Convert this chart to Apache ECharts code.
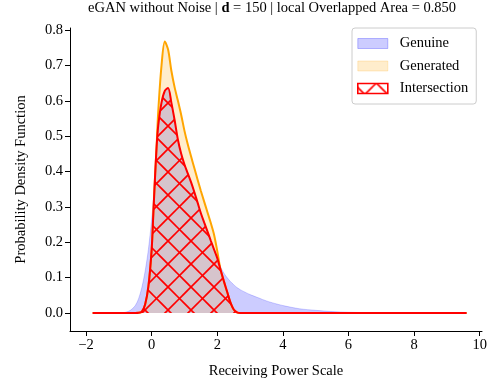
<!DOCTYPE html>
<html>
<head>
<meta charset="utf-8">
<script src="https://cdn.jsdelivr.net/npm/echarts@6/dist/echarts.min.js"></script>
<style>html,body{margin:0;padding:0;background:#fff}#c{width:498px;height:388px}</style>
</head>
<body>
<div id="c"></div>
<script>
// ---- data ----
const xs = [-1.8, -1.0, -0.9, -0.8, -0.7, -0.6, -0.5, -0.4, -0.3, -0.2, -0.1,
  0.0, 0.05, 0.1, 0.15, 0.2, 0.3, 0.4, 0.5, 0.6, 0.7, 0.8, 0.9, 1.0,
  1.1, 1.2, 1.3, 1.4, 1.5, 1.6, 1.7, 1.8, 1.9, 2.0, 2.1, 2.2, 2.3, 2.4, 2.5, 2.6, 2.7, 2.8,
  3.0, 3.25, 3.5, 3.75, 4.0, 4.5, 5.0, 5.5, 6.0, 7.0, 8.0, 9.6];
const genuine = [0, 0, 0.0005, 0.002, 0.005, 0.011, 0.021, 0.040, 0.072, 0.118, 0.180,
  0.265, 0.32, 0.40, 0.47, 0.53, 0.595, 0.628, 0.636, 0.595, 0.545, 0.49, 0.45, 0.42,
  0.395, 0.37, 0.342, 0.312, 0.282, 0.256, 0.231, 0.205, 0.18, 0.155, 0.13, 0.113, 0.10, 0.089, 0.080, 0.072, 0.066, 0.061,
  0.052, 0.043, 0.034, 0.027, 0.021, 0.012, 0.0075, 0.004, 0.002, 0.0005, 0, 0];
const generated = [0, 0, 0, 0, 0, 0, 0, 0.0005, 0.004, 0.024, 0.075,
  0.18, 0.28, 0.38, 0.47, 0.57, 0.70, 0.768, 0.745, 0.685, 0.638, 0.60, 0.56, 0.515,
  0.477, 0.443, 0.41, 0.377, 0.345, 0.315, 0.285, 0.255, 0.222, 0.175, 0.122, 0.09, 0.06, 0.03, 0.010, 0.002, 0, 0,
  0, 0, 0, 0, 0, 0, 0, 0, 0, 0, 0, 0];
const intersection = [0, 0, 0, 0, 0, 0, 0, 0.0005, 0.004, 0.024, 0.075,
  0.18, 0.28, 0.38, 0.47, 0.53, 0.595, 0.628, 0.636, 0.595, 0.545, 0.49, 0.45, 0.42,
  0.395, 0.37, 0.342, 0.312, 0.282, 0.256, 0.231, 0.205, 0.18, 0.155, 0.122, 0.09, 0.06, 0.03, 0.010, 0.002, 0, 0,
  0, 0, 0, 0, 0, 0, 0, 0, 0, 0, 0, 0];
const xTicks = [-2, 0, 2, 4, 6, 8, 10];
const yTicks = [0, 0.1, 0.2, 0.3, 0.4, 0.5, 0.6, 0.7, 0.8];
const seriesNames = ['Genuine', 'Generated', 'Intersection'];

// ---- styling ----
const FONT = 'Liberation Serif';
const FS = 14.5;
function hatchCanvas() {
  const P = 23, a = 19, b = 18;
  const c = document.createElement('canvas');
  c.width = P; c.height = P;
  const g = c.getContext('2d');
  g.strokeStyle = '#ff0000';
  g.lineWidth = 1.6;
  for (let k = -2; k <= 2; k++) {
    g.beginPath(); g.moveTo(a + k * P - 2, -2); g.lineTo(a + k * P + P + 2, P + 2); g.stroke();
    g.beginPath(); g.moveTo(b + k * P + 2, -2); g.lineTo(b + k * P - P - 2, P + 2); g.stroke();
  }
  return c;
}
const hatch = { image: hatchCanvas(), repeat: 'repeat' };
const pairs = arr => xs.map((x, i) => [x, arr[i]]);
const fmt = v => (Math.abs(v) < 1e-9 ? '0' : String(v)).replace('-', '\u2212');

const chart = echarts.init(document.getElementById('c'), null, { renderer: 'canvas' });
chart.setOption({
  animation: false,
  backgroundColor: '#fff',
  title: {
    text: '{a|eGAN without Noise | }{b|d}{a| = 150 | local Overlapped Area = 0.850}',
    left: 88, top: 1, padding: 0,
    textStyle: {
      fontFamily: FONT, fontSize: FS, fontWeight: 'normal', color: '#000',
      rich: {
        a: { fontFamily: FONT, fontSize: FS, fontWeight: 'normal', color: '#000' },
        b: { fontFamily: FONT, fontSize: FS, fontWeight: 'bold', color: '#000' }
      }
    }
  },
  grid: { left: 70, right: 16, top: 28, bottom: 57, containLabel: false },
  legend: {
    orient: 'vertical', left: 352, top: 28,
    padding: [8, 8, 8, 5],
    itemWidth: 30, itemHeight: 10, itemGap: 7.5,
    backgroundColor: '#fff', borderColor: '#cccccc', borderWidth: 1, borderRadius: 3,
    selectedMode: false,
    textStyle: { fontFamily: FONT, fontSize: FS, color: '#000', padding: [0, 0, 0, 7] },
    data: [
      { name: seriesNames[0], icon: 'rect', itemStyle: { color: 'rgba(0,0,255,0.2)', borderColor: 'rgba(0,0,255,0.25)', borderWidth: 1 } },
      { name: seriesNames[1], icon: 'rect', itemStyle: { color: 'rgba(255,165,0,0.2)', borderColor: 'rgba(255,165,0,0.2)', borderWidth: 1 } },
      { name: seriesNames[2], icon: 'rect', itemStyle: { color: hatch, borderColor: '#ff0000', borderWidth: 1.6 } }
    ]
  },
  xAxis: {
    type: 'value', min: -2.49, max: 10.07,
    name: 'Receiving Power Scale', nameLocation: 'middle', nameGap: 33,
    nameTextStyle: { fontFamily: FONT, fontSize: FS, color: '#000' },
    axisLine: { onZero: false, lineStyle: { color: '#000', width: 1 } },
    axisTick: { length: 5, lineStyle: { color: '#000' }, customValues: xTicks },
    axisLabel: { customValues: xTicks, formatter: fmt, fontFamily: FONT, fontSize: FS, color: '#000', margin: 7 },
    splitLine: { show: false }
  },
  yAxis: {
    type: 'value', min: -0.051, max: 0.806,
    name: 'Probability Density Function', nameLocation: 'middle', nameGap: 41,
    nameTextStyle: { fontFamily: FONT, fontSize: FS, color: '#000' },
    axisLine: { show: true, onZero: false, lineStyle: { color: '#000', width: 1 } },
    axisTick: { show: true, length: 5, lineStyle: { color: '#000' }, customValues: yTicks },
    axisLabel: { customValues: yTicks, formatter: v => v.toFixed(1), fontFamily: FONT, fontSize: FS, color: '#000', margin: 7 },
    splitLine: { show: false }
  },
  series: [
    {
      name: seriesNames[0], type: 'line', data: pairs(genuine), symbol: 'none', smooth: 0.3,
      itemStyle: { color: 'rgba(0,0,255,0.2)' },
      lineStyle: { color: 'rgba(0,0,255,0.18)', width: 1 },
      areaStyle: { color: 'rgba(0,0,255,0.2)', opacity: 1 }, z: 2
    },
    {
      name: seriesNames[1], type: 'line', data: pairs(generated), symbol: 'none', smooth: 0.3,
      itemStyle: { color: '#ffa500' },
      lineStyle: { color: '#ffa500', width: 2 },
      areaStyle: { color: 'rgba(255,165,0,0.2)', opacity: 1 }, z: 3
    },
    {
      name: seriesNames[2], type: 'line', data: pairs(intersection), symbol: 'none', smooth: 0.3,
      itemStyle: { color: '#ff0000' },
      lineStyle: { color: '#ff0000', width: 2 },
      areaStyle: { color: hatch, opacity: 1 }, z: 4
    }
  ]
});
</script>
</body>
</html>
